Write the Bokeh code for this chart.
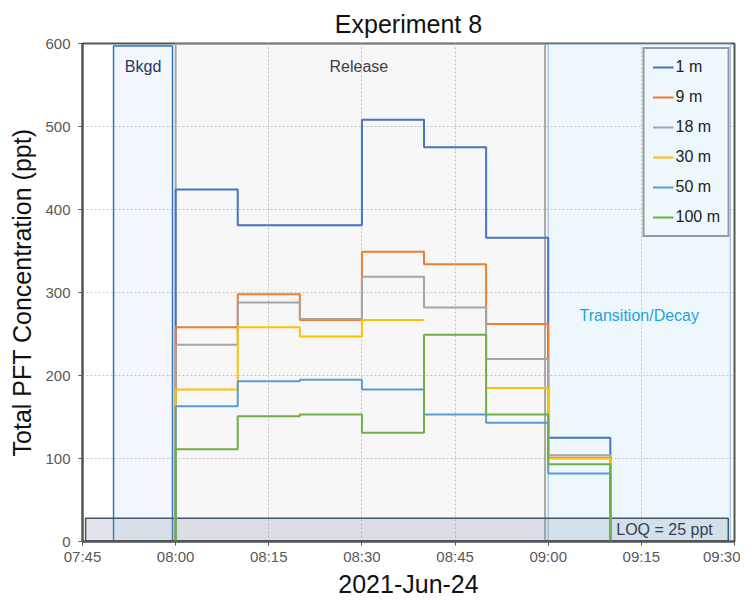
import math
import pandas as pd
from bokeh.plotting import figure
from bokeh.models import Range1d, FixedTicker, DatetimeTickFormatter, ColumnDataSource
from bokeh.core.properties import value
from bokeh.embed import file_html
from bokeh.resources import INLINE

# ---------------- data ----------------
DATE = "2021-06-24"
interval_starts = ["08:00", "08:10", "08:20", "08:30", "08:40", "08:50", "09:00"]
interval_end = "09:10"

series_names = ["1 m", "9 m", "18 m", "30 m", "50 m", "100 m"]
s_1m = [424, 381, 381, 508, 475, 366, 125]
s_9m = [258, 298, 267, 349, 334, 262, 101]
s_18m = [237, 288, 268, 319, 282, 220, 104]
s_30m = [183, 258, 247, 267, None, 185, 100]
s_50m = [163, 193, 195, 183, 153, 143, 82]
s_100m = [111, 151, 153, 131, 249, 153, 93]
series_values = [s_1m, s_9m, s_18m, s_30m, s_50m, s_100m]
series_colors = ["#4472C4", "#ED7D31", "#A5A5A5", "#FFC000", "#5B9BD5", "#70AD47"]

x_ticks = ["07:45", "08:00", "08:15", "08:30", "08:45", "09:00", "09:15", "09:30"]
y_ticks = [0, 100, 200, 300, 400, 500, 600]

# periods: (label, start, end, top)
bkgd_period = ("Bkgd", "07:50:00", "07:59:30", 597)
release_period = ("Release", "08:00:00", "08:59:30", 600)
transition_period = ("Transition/Decay", "09:00:00", "09:29:20", 599)
loq_value = 25
loq_box = ("LOQ = 25 ppt", "07:45:30", "09:29:00", 28)

FONT = "Liberation Sans"


def t(s):
    return pd.Timestamp(f"{DATE} {s}").value / 1e6


def step_path(vals):
    xs, ys = [t(interval_starts[0])], [0.0]
    edges = interval_starts + [interval_end]
    for i, v in enumerate(vals):
        if v is None:
            xs.append(math.nan)
            ys.append(math.nan)
            continue
        xs += [t(edges[i]), t(edges[i + 1])]
        ys += [v, v]
    xs.append(t(interval_end))
    ys.append(0.0)
    return xs, ys


p = figure(
    width=740, height=600,
    output_backend="svg", toolbar_location=None,
    x_axis_type="datetime",
    x_range=Range1d(t(x_ticks[0]), t(x_ticks[-1])),
    y_range=Range1d(y_ticks[0], y_ticks[-1]),
    min_border_left=82, min_border_right=6, min_border_top=43, min_border_bottom=59,
    title="Experiment 8",
)
p.background_fill_color = "white"
p.border_fill_color = "white"
p.outline_line_color = "#555555"
p.outline_line_width = 2

p.title.text_font = FONT
p.title.text_font_size = "25px"
p.title.text_font_style = "normal"
p.title.align = "center"
p.title.text_color = "#111111"
p.title.standoff = 12

# axes
p.xaxis.ticker = FixedTicker(ticks=[t(s) for s in x_ticks])
p.xaxis.formatter = DatetimeTickFormatter(
    minutes="%H:%M", hours="%H:%M", minsec="%H:%M", days="%H:%M", hourmin="%H:%M")
p.yaxis.ticker = FixedTicker(ticks=y_ticks)
p.xaxis.axis_label = "2021-Jun-24"
p.yaxis.axis_label = "Total PFT Concentration (ppt)"
for ax in (p.xaxis, p.yaxis):
    ax.axis_label_text_font = FONT
    ax.axis_label_text_font_size = "25px"
    ax.axis_label_text_font_style = "normal"
    ax.axis_label_text_color = "#111111"
    ax.major_label_text_font = FONT
    ax.major_label_text_font_size = "15px"
    ax.major_label_text_color = "#595959"
    ax.axis_line_color = "#555555"
    ax.axis_line_width = 2
    ax.major_tick_line_color = "#555555"
    ax.major_tick_out = 4
    ax.major_tick_in = 0
    ax.minor_tick_line_color = None
p.xaxis.major_label_standoff = 2
p.xaxis.axis_label_standoff = 2
p.yaxis.major_label_standoff = 8
p.yaxis.axis_label_standoff = 6

for g in (p.xgrid, p.ygrid):
    g.grid_line_color = "#C8C8C8"
    g.grid_line_dash = "2 2"
    g.grid_line_width = 1

# periods
p.quad(left=[t(release_period[1])], right=[t(release_period[2])], bottom=[0], top=[release_period[3]],
       fill_color="#000000", fill_alpha=0.03, line_color="#A6A6A6", line_width=2)
p.quad(left=[t(transition_period[1])], right=[t(transition_period[2])], bottom=[0], top=[transition_period[3]],
       fill_color="#3DA5E0", fill_alpha=0.09, line_color="#A9C8EA", line_width=1.5)
p.quad(left=[t(bkgd_period[1])], right=[t(bkgd_period[2])], bottom=[0], top=[bkgd_period[3]],
       fill_color="#2E75D6", fill_alpha=0.06, line_color="#2E75B6", line_width=1.5)
p.quad(left=[t(loq_box[1])], right=[t(loq_box[2])], bottom=[1], top=[loq_box[3]],
       fill_color="#8497B0", fill_alpha=0.25, line_color="#44546A", line_width=1.5)

# series
for name, vals, col in zip(series_names, series_values, series_colors):
    xs, ys = step_path(vals)
    p.line(xs, ys, line_color=col, line_width=2, legend_label=name)

# period labels
lab_src = ColumnDataSource(dict(
    x=[t("07:54:45"), t("08:29:30"), t("09:14:40")],
    y=[572, 572, 272],
    text=[bkgd_period[0], release_period[0], transition_period[0]],
    color=["#1F3864", "#404040", "#1AA3E0"],
))
p.text(x="x", y="y", text="text", text_color="color", source=lab_src,
       text_font=value(FONT), text_font_size=value("16px"),
       text_align="center", text_baseline="middle")
p.text(x=[t("09:26:30")], y=[14], text=[loq_box[0]],
       text_font=value(FONT), text_font_size=value("16px"), text_color="#333F50",
       text_align="right", text_baseline="middle")

# legend
lg = p.legend[0]
lg.location = "top_right"
lg.margin = 4
lg.padding = 8
lg.spacing = 10
lg.glyph_width = 21
lg.glyph_height = 20
lg.label_height = 20
lg.label_standoff = 2
lg.label_text_font = FONT
lg.label_text_font_size = "16px"
lg.label_text_color = "#222222"
lg.border_line_color = "#404040"
lg.border_line_width = 2
lg.background_fill_color = "#EEF7FC"
lg.background_fill_alpha = 1.0

open("out.html", "w").write(file_html(p, INLINE))
